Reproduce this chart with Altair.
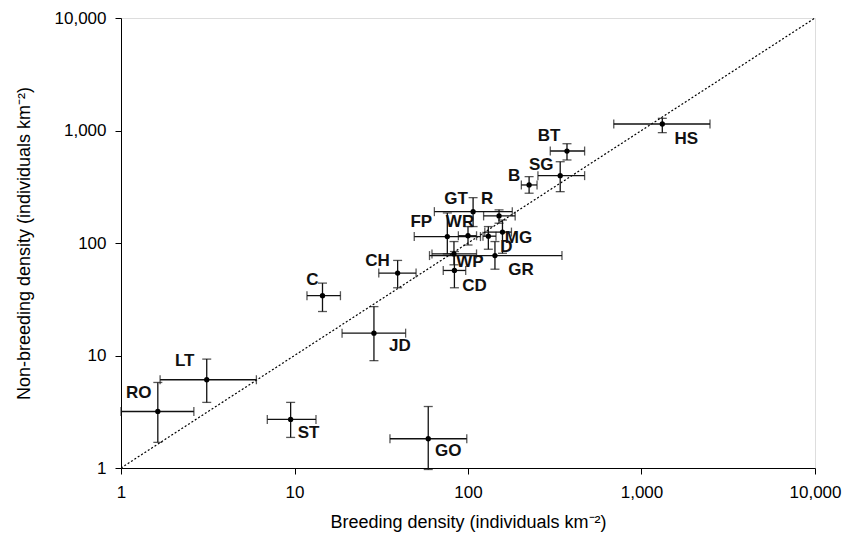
import altair as alt
import pandas as pd

# ---- data ----
species = ["HS", "BT", "SG", "B", "GT", "R", "FP", "WR", "MG", "D",
           "WP", "GR", "CD", "CH", "C", "JD", "LT", "RO", "ST", "GO"]
breeding = [1318, 372, 340, 225, 107, 151, 76, 100, 158, 131,
            83, 143, 83.5, 39.3, 14.5, 28.7, 3.12, 1.63, 9.5, 59]
breeding_lo = [692, 298, 253, 203, 64, 123, 49, 88, 125, 122,
               62, 60, 72, 30.6, 11.8, 18.8, 1.68, 1.0, 6.97, 35.5]
breeding_hi = [2482, 470, 470, 250, 180, 187, 118, 112, 178, 145,
               112, 348, 97, 50.2, 18.4, 43.7, 6.03, 2.63, 13.3, 98.4]
nonbreeding = [1142, 657, 397, 328, 190, 174, 114, 116, 125, 115,
               80, 77.3, 57, 54, 34, 15.8, 6.09, 3.18, 2.70, 1.82]
nonbreeding_lo = [957, 547, 286, 277, 140, 150, 80, 96, 81, 88,
                  64, 58.5, 40, 40, 24.6, 9.0, 3.83, 1.69, 1.87, 0.97]
nonbreeding_hi = [1283, 763, 528, 389, 253, 197, 185, 140, 160, 140,
                  103, 103, 84, 70, 44, 27.2, 9.29, 5.76, 3.83, 3.52]
# label offsets from each point (pixels, right / down)
label_dx = [24, -18, -19, -15, -17, -12, -26, -8, 16, 18,
            16, 26, 20, -20, -10, 26, -22, -19, 18, 20]
label_dy = [15, -15, -11, -9, -13, -17, -15, -14, 6, 11,
            8, 14, 16, -12, -16, 13, -19, -18, 14, 12]
ticks = [1, 10, 100, 1000, 10000]
line_x = [1, 10000]

W, H = 694, 450
dec_x = W / 4.0
dec_y = H / 4.0

df = pd.DataFrame({
    "sp": species, "x": breeding, "xlo": breeding_lo, "xhi": breeding_hi,
    "y": nonbreeding, "ylo": nonbreeding_lo, "yhi": nonbreeding_hi,
    "dx": label_dx, "dy": label_dy,
})
df["lx"] = df["x"] * 10 ** (df["dx"] / dec_x)
df["ly"] = df["y"] * 10 ** (-df["dy"] / dec_y)

xcaps = pd.concat([
    pd.DataFrame({"cx": df["xlo"], "cy": df["y"]}),
    pd.DataFrame({"cx": df["xhi"], "cy": df["y"]}),
])
ycaps = pd.concat([
    pd.DataFrame({"cx": df["x"], "cy": df["ylo"]}),
    pd.DataFrame({"cx": df["x"], "cy": df["yhi"]}),
])
diag = pd.DataFrame({"a": line_x, "b": line_x})

FONT = "Liberation Sans"
xscale = alt.Scale(type="log", domain=[1, 10000], nice=False)
yscale = alt.Scale(type="log", domain=[1, 10000], nice=False)

xaxis = alt.Axis(values=ticks, format=",", grid=False, title="Breeding density (individuals km\u207b\u00b2)",
                 tickSize=6, labelPadding=10, titlePadding=13, domainColor="black", tickColor="black",
                 labelColor="black", titleColor="black", labelFont=FONT, titleFont=FONT,
                 labelFontSize=17, titleFontSize=18, titleFontWeight="normal", labelFlush=False)
yaxis = alt.Axis(values=ticks, format=",", grid=False, title="Non-breeding density (individuals km\u207b\u00b2)",
                 tickSize=6, labelPadding=9, titlePadding=21, domainColor="black", tickColor="black",
                 labelColor="black", titleColor="black", labelFont=FONT, titleFont=FONT,
                 labelFontSize=17, titleFontSize=18, titleFontWeight="normal", labelFlush=False)

base = alt.Chart(df)

line = alt.Chart(diag).mark_line(color="black", strokeWidth=1.2, strokeDash=[2, 2], clip=True).encode(
    x=alt.X("a:Q", scale=xscale, axis=xaxis),
    y=alt.Y("b:Q", scale=yscale, axis=yaxis),
)

hbars = base.mark_rule(color="#111", strokeWidth=1.3).encode(
    x=alt.X("xlo:Q", scale=xscale), x2="xhi:Q", y=alt.Y("y:Q", scale=yscale))
vbars = base.mark_rule(color="#111", strokeWidth=1.3).encode(
    x=alt.X("x:Q", scale=xscale), y=alt.Y("ylo:Q", scale=yscale), y2="yhi:Q")

hcaps = alt.Chart(xcaps).mark_tick(orient="vertical", color="#111", size=9, thickness=1.3).encode(
    x=alt.X("cx:Q", scale=xscale), y=alt.Y("cy:Q", scale=yscale))
vcaps = alt.Chart(ycaps).mark_tick(orient="horizontal", color="#111", size=9, thickness=1.3).encode(
    x=alt.X("cx:Q", scale=xscale), y=alt.Y("cy:Q", scale=yscale))

pts = base.mark_circle(color="black", size=28, opacity=1).encode(
    x=alt.X("x:Q", scale=xscale), y=alt.Y("y:Q", scale=yscale))

labels = base.mark_text(font=FONT, fontSize=17, fontWeight="bold", color="#111",
                        align="center", baseline="middle").encode(
    x=alt.X("lx:Q", scale=xscale), y=alt.Y("ly:Q", scale=yscale), text="sp:N")

chart = alt.layer(line, hbars, vbars, hcaps, vcaps, pts, labels).properties(
    width=W, height=H,
    autosize=alt.AutoSizeParams(type="none"),
    padding={"left": 113, "top": 10, "right": 28, "bottom": 64},
).configure_view(strokeWidth=0).configure(background="white")

chart.save("out.html", embed_options={"renderer": "svg", "actions": False})
